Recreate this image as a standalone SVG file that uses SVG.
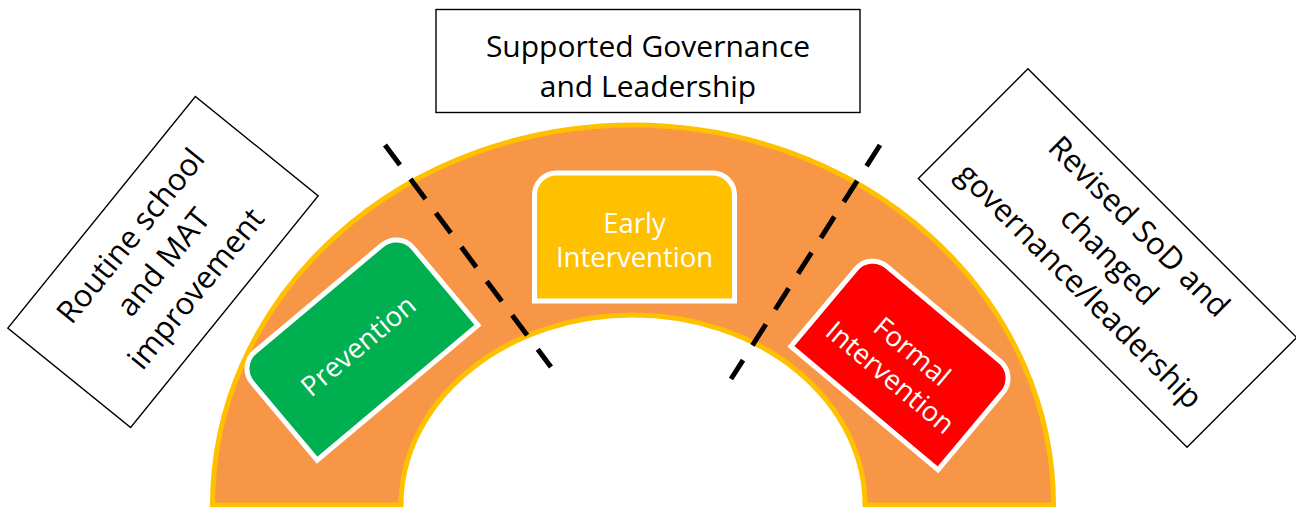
<svg xmlns="http://www.w3.org/2000/svg" width="1296" height="507" viewBox="0 0 1296 507">
<style>
.lbl{font-family:"Open Sans","Noto Sans","DejaVu Sans",sans-serif;fill:#000;text-anchor:middle}
.wl{font-family:"Open Sans","Noto Sans","DejaVu Sans",sans-serif;fill:#fff;text-anchor:middle;font-size:27.5px}
.box{fill:#fff;stroke:#000;stroke-width:1.4}
.stage{stroke:#fff;stroke-width:5}
.dash{stroke:#000;stroke-width:5;stroke-dasharray:25 17.5;fill:none}
</style>
<rect width="1296" height="507" fill="#fff"/>
<g id="arch">
<path d="M212.5,505 A420.5,380 0 0 1 1053.5,505 L865,505 A232,190 0 0 0 401,505 Z" fill="#F79646" stroke="#FFC000" stroke-width="5" stroke-linejoin="miter"/>
</g>
<g id="connectors">
<line class="dash" x1="385" y1="145" x2="551" y2="367"/>
<line class="dash" x1="880" y1="145" x2="731" y2="379"/>
</g>
<g id="top-box">
<rect class="box" x="436" y="9.5" width="424" height="103"/>
<text class="lbl" font-size="30" x="648" y="57">Supported Governance</text>
<text class="lbl" font-size="30" x="648" y="97">and Leadership</text>
</g>
<g id="left-box" transform="translate(163,262) rotate(-51)">
<rect class="box" x="-149" y="-79" width="298" height="158"/>
<text class="lbl" font-size="31" x="0" y="-31">Routine school</text>
<text class="lbl" font-size="31" x="0" y="11">and MAT</text>
<text class="lbl" font-size="31" x="0" y="53">improvement</text>
</g>
<g id="right-box" transform="translate(1107.5,258) rotate(45)">
<rect class="box" x="-190" y="-77.5" width="380" height="155"/>
<text class="lbl" font-size="31" x="0" y="-34">Revised SoD and</text>
<text class="lbl" font-size="31" x="0" y="8">changed</text>
<text class="lbl" font-size="31" x="0" y="50">governance/leadership</text>
</g>
<g id="prevention" transform="translate(358,345.5) rotate(-40)">
<path class="stage" fill="#00B050" d="M-105,61.5 V-39.5 A22,22 0 0 1 -83,-61.5 H83 A22,22 0 0 1 105,-39.5 V61.5 Z"/>
<text class="wl" x="0" y="10">Prevention</text>
</g>
<g id="early-intervention">
<path class="stage" fill="#FFC000" d="M534.5,301 V195 A22,22 0 0 1 556.5,173 H712.5 A22,22 0 0 1 734.5,195 V301 Z"/>
<text class="wl" x="634.5" y="233">Early</text>
<text class="wl" x="634.5" y="267">Intervention</text>
</g>
<g id="formal-intervention" transform="translate(904,361) rotate(40)">
<path class="stage" fill="#FF0000" d="M-96,61.5 V-39.5 A22,22 0 0 1 -74,-61.5 H74 A22,22 0 0 1 96,-39.5 V61.5 Z"/>
<text class="wl" x="0" y="-3">Formal</text>
<text class="wl" x="0" y="31">Intervention</text>
</g>
</svg>
